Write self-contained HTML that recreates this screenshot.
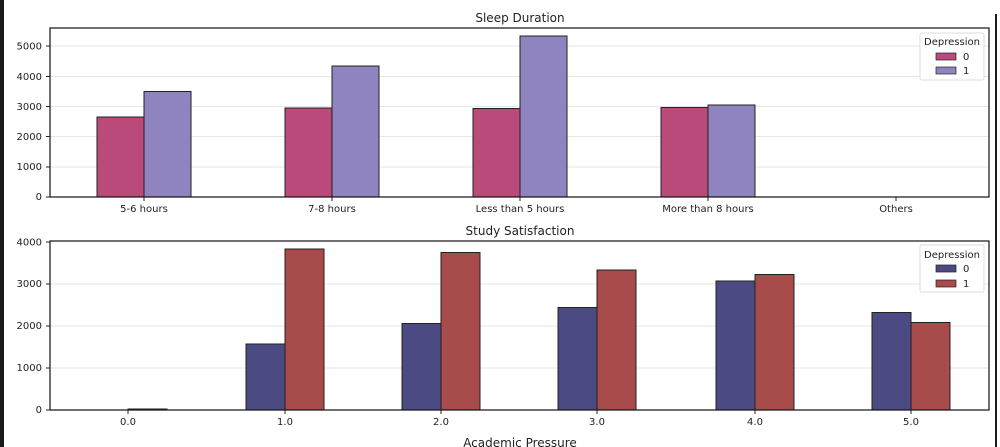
<!DOCTYPE html>
<html><head><style>body{margin:0;background:#fff}svg{display:block}text{font-family:"DejaVu Sans","Liberation Sans",sans-serif;fill:#222}</style></head><body>
<svg width="1000" height="447" viewBox="0 0 1000 447" xmlns="http://www.w3.org/2000/svg">
<rect x="0" y="0" width="4" height="447" fill="#1a1a1a"/>
<rect x="995" y="14" width="2" height="433" fill="#1a1a1a"/>
<!-- top plot -->
<g stroke="#e6e6e6" stroke-width="1">
<line x1="50" x2="989" y1="46" y2="46"/><line x1="50" x2="989" y1="76.5" y2="76.5"/><line x1="50" x2="989" y1="106.5" y2="106.5"/><line x1="50" x2="989" y1="136.5" y2="136.5"/><line x1="50" x2="989" y1="167" y2="167"/>
</g>
<g stroke="#222" stroke-width="1">
<rect x="97" y="117" width="47" height="80" fill="#b94a7a"/>
<rect x="144" y="91.5" width="47" height="105.5" fill="#8f84c0"/>
<rect x="285" y="108" width="47" height="89" fill="#b94a7a"/>
<rect x="332" y="66" width="47" height="131" fill="#8f84c0"/>
<rect x="473" y="108.5" width="47" height="88.5" fill="#b94a7a"/>
<rect x="520" y="36" width="47" height="161" fill="#8f84c0"/>
<rect x="661" y="107.5" width="47" height="89.5" fill="#b94a7a"/>
<rect x="708" y="105" width="47" height="92" fill="#8f84c0"/>
</g>
<rect x="50" y="28" width="939" height="169" fill="none" stroke="#111" stroke-width="1.2"/>
<g font-size="10" text-anchor="end">
<text x="42" y="200">0</text><text x="42" y="170">1000</text><text x="42" y="140">2000</text><text x="42" y="110">3000</text><text x="42" y="80">4000</text><text x="42" y="49.5">5000</text>
</g>
<g stroke="#222"><line x1="46" x2="50" y1="197" y2="197"/><line x1="46" x2="50" y1="167" y2="167"/><line x1="46" x2="50" y1="136.5" y2="136.5"/><line x1="46" x2="50" y1="106.5" y2="106.5"/><line x1="46" x2="50" y1="76.5" y2="76.5"/><line x1="46" x2="50" y1="46" y2="46"/>
<line x1="144" x2="144" y1="197" y2="201"/><line x1="332" x2="332" y1="197" y2="201"/><line x1="520" x2="520" y1="197" y2="201"/><line x1="708" x2="708" y1="197" y2="201"/><line x1="896" x2="896" y1="197" y2="201"/></g>
<g font-size="10" text-anchor="middle">
<text x="144" y="212">5-6 hours</text><text x="332" y="212">7-8 hours</text><text x="520" y="212">Less than 5 hours</text><text x="708" y="212">More than 8 hours</text><text x="896" y="212">Others</text>
</g>
<text x="520" y="22" font-size="12" text-anchor="middle">Sleep Duration</text>
<rect x="920" y="33" width="64" height="47" rx="2" fill="#fff" stroke="#ddd"/>
<text x="952" y="45" font-size="10" text-anchor="middle">Depression</text>
<rect x="936" y="53" width="20" height="7" fill="#b94a7a" stroke="#222" stroke-width="0.7"/><text x="963" y="60" font-size="10">0</text>
<rect x="936" y="67" width="20" height="7" fill="#8f84c0" stroke="#222" stroke-width="0.7"/><text x="963" y="74" font-size="10">1</text>
<!-- bottom plot -->
<g stroke="#e6e6e6"><line x1="50" x2="989" y1="284" y2="284"/><line x1="50" x2="989" y1="326" y2="326"/><line x1="50" x2="989" y1="368" y2="368"/></g>
<g stroke="#222" stroke-width="1">
<rect x="128" y="409" width="39" height="1" fill="#a84b4b"/>
<rect x="246" y="344" width="39" height="66" fill="#4b4a82"/>
<rect x="285" y="249" width="39" height="161" fill="#a84b4b"/>
<rect x="402" y="323.5" width="39" height="86.5" fill="#4b4a82"/>
<rect x="441" y="252.5" width="39" height="157.5" fill="#a84b4b"/>
<rect x="558" y="307.5" width="39" height="102.5" fill="#4b4a82"/>
<rect x="597" y="270" width="39" height="140" fill="#a84b4b"/>
<rect x="716" y="281" width="39" height="129" fill="#4b4a82"/>
<rect x="755" y="274.5" width="39" height="135.5" fill="#a84b4b"/>
<rect x="872" y="312.5" width="39" height="97.5" fill="#4b4a82"/>
<rect x="911" y="322.5" width="39" height="87.5" fill="#a84b4b"/>
</g>
<rect x="50" y="241" width="939" height="169" fill="none" stroke="#111" stroke-width="1.2"/>
<g font-size="10" text-anchor="end">
<text x="42" y="413">0</text><text x="42" y="371">1000</text><text x="42" y="329">2000</text><text x="42" y="287">3000</text><text x="42" y="245.5">4000</text>
</g>
<g stroke="#222"><line x1="46" x2="50" y1="410" y2="410"/><line x1="46" x2="50" y1="368" y2="368"/><line x1="46" x2="50" y1="326" y2="326"/><line x1="46" x2="50" y1="284" y2="284"/><line x1="46" x2="50" y1="242" y2="242"/>
<line x1="128" x2="128" y1="410" y2="414"/><line x1="285" x2="285" y1="410" y2="414"/><line x1="441" x2="441" y1="410" y2="414"/><line x1="597" x2="597" y1="410" y2="414"/><line x1="755" x2="755" y1="410" y2="414"/><line x1="911" x2="911" y1="410" y2="414"/></g>
<g font-size="10" text-anchor="middle">
<text x="128" y="425">0.0</text><text x="285" y="425">1.0</text><text x="441" y="425">2.0</text><text x="597" y="425">3.0</text><text x="755" y="425">4.0</text><text x="911" y="425">5.0</text>
</g>
<text x="520" y="235" font-size="12" text-anchor="middle">Study Satisfaction</text>
<text x="520" y="447" font-size="12" text-anchor="middle">Academic Pressure</text>
<rect x="920" y="245" width="64" height="47" rx="2" fill="#fff" stroke="#ddd"/>
<text x="952" y="258" font-size="10" text-anchor="middle">Depression</text>
<rect x="936" y="265" width="20" height="7" fill="#4b4a82" stroke="#222" stroke-width="0.7"/><text x="963" y="272" font-size="10">0</text>
<rect x="936" y="280" width="20" height="7" fill="#a84b4b" stroke="#222" stroke-width="0.7"/><text x="963" y="287" font-size="10">1</text>
</svg>
</body></html>
